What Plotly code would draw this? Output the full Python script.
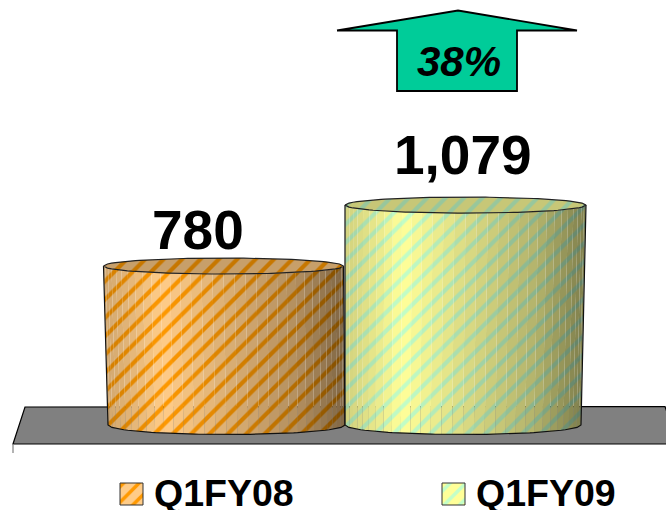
import math
import plotly.graph_objects as go

W, H = 666, 510
quarters = ["Q1FY08", "Q1FY09"]
revenue = [780, 1079]
growth_label = "38%"

BG = [(255, 204, 136), (255, 255, 153)]
FG = [(255, 153, 0), (195, 255, 200)]
TOP_EDGES = [(103.5, 343.5), (345.0, 586.0)]
FOOT_EDGES = [(108.0, 345.0), (345.0, 581.0)]
TOP_RY, FOOT_RY = 8.0, 9.5
BASE_PX, PX_PER_UNIT = 425.0, 0.2038
N_STRIPS = 34

# Lighting stops across the face: position, brightness
LIGHT_POS = [0.0, 0.12, 0.24, 0.33, 0.5, 0.8, 1.0]
LIGHT_VAL = [0.82, 0.9, 1.0, 0.95, 0.86, 0.7, 0.5]


def px_to_val(px):
    return (BASE_PX - px) / PX_PER_UNIT


def dy(px):
    return px / PX_PER_UNIT


def shade(u):
    """Cylinder lighting across the face, u in 0..1 from left to right."""
    for a, b, fa, fb in zip(LIGHT_POS, LIGHT_POS[1:], LIGHT_VAL, LIGHT_VAL[1:]):
        if u <= b:
            return fa + (fb - fa) * (u - a) / (b - a)
    return LIGHT_VAL[-1]


def tint(rgb, f):
    return "rgb(%d,%d,%d)" % tuple(round(c * f) for c in rgb)


def pattern(i, f, size=13):
    return dict(shape="/", bgcolor=tint(BG[i], f), fgcolor=tint(FG[i], f),
                fgopacity=1, size=size, solidity=0.32)


def front_curve(edges, u, ry):
    """Point on the front half of an ellipse; u runs 0..1 across the width."""
    left, right = edges
    cx, rx = (left + right) / 2, (right - left) / 2
    t = 2 * u - 1
    return cx + rx * t, ry * math.sqrt(max(0, 1 - t * t))


fig = go.Figure()

for i, value in enumerate(revenue):
    # Side of the cylinder: narrow vertical facets whose ends follow the ellipses
    for k in range(N_STRIPS):
        u0 = 0.5 - 0.5 * math.cos(math.pi * k / N_STRIPS)
        u1 = 0.5 - 0.5 * math.cos(math.pi * (k + 1) / N_STRIPS)
        xt0, dt0 = front_curve(TOP_EDGES[i], u0, TOP_RY)
        xt1, dt1 = front_curve(TOP_EDGES[i], u1, TOP_RY)
        xb0, db0 = front_curve(FOOT_EDGES[i], u0, FOOT_RY)
        xb1, db1 = front_curve(FOOT_EDGES[i], u1, FOOT_RY)
        fig.add_trace(go.Scatter(
            x=[xt0, xt1, xb1, xb0, xt0],
            y=[value - dy(dt0), value - dy(dt1), -dy(db1), -dy(db0), value - dy(dt0)],
            mode="lines", fill="toself", line=dict(width=0), showlegend=False,
            hoverinfo="skip", fillcolor=tint(BG[i], shade((u0 + u1) / 2)),
            fillpattern=pattern(i, shade((u0 + u1) / 2))))

    # Outline of the body
    us = [j / 60 for j in range(61)]
    bottom = [front_curve(FOOT_EDGES[i], u, FOOT_RY) for u in us]
    fig.add_trace(go.Scatter(
        x=[TOP_EDGES[i][0]] + [p[0] for p in bottom] + [TOP_EDGES[i][1]],
        y=[value] + [-dy(p[1]) for p in bottom] + [value],
        mode="lines", line=dict(color="#111111", width=1.2),
        showlegend=False, hoverinfo="skip"))

    # Top face of the cylinder
    front = [front_curve(TOP_EDGES[i], u, TOP_RY) for u in us]
    ex = [p[0] for p in front] + [p[0] for p in reversed(front)]
    ey = [value - dy(p[1]) for p in front] + [value + dy(p[1]) for p in reversed(front)]
    fig.add_trace(go.Scatter(
        x=ex, y=ey, mode="lines", fill="toself",
        line=dict(color="#222222", width=1.2), showlegend=False, hoverinfo="skip",
        fillcolor=tint(BG[i], 0.78), fillpattern=pattern(i, 0.78)))

# Growth arrow and legend swatches live on a pixel-scaled overlay axis
arrow_x = [337, 458, 577, 517, 517, 397, 397, 337]
arrow_y = [30.5, 10.5, 30.5, 30.5, 91, 91, 30.5, 30.5]
fig.add_trace(go.Scatter(x=arrow_x, y=arrow_y, xaxis="x2", yaxis="y2", mode="lines",
                         fill="toself", fillcolor="#00CC99",
                         line=dict(color="#000000", width=1.8),
                         showlegend=False, hoverinfo="skip"))

swatch_left = [120, 442]
for i, left in enumerate(swatch_left):
    fig.add_trace(go.Scatter(
        x=[left, left + 23, left + 23, left, left],
        y=[483, 483, 505, 505, 483], xaxis="x2", yaxis="y2", mode="lines",
        fill="toself", fillcolor=tint(BG[i], 1), fillpattern=pattern(i, 1, size=11),
        line=dict(color="#333333", width=1), showlegend=False, hoverinfo="skip"))


def paper(px, py):
    return px / W, 1 - py / H


FLOOR = [(25, 407), (665, 406.5), (678, 444), (13, 444)]
floor_path = "M " + " L ".join("%.5f,%.5f" % paper(*p) for p in FLOOR) + " Z"
tx0, ty0 = paper(13, 444)
tx1, ty1 = paper(13, 453)
shapes = [
    dict(type="path", xref="paper", yref="paper", path=floor_path, layer="below",
         fillcolor="#808080", line=dict(color="#000000", width=1.2)),
    dict(type="line", xref="paper", yref="paper", x0=tx0, y0=ty0, x1=tx1, y1=ty1,
         layer="below", line=dict(color="#808080", width=1.2)),
]

FONT = "Liberation Sans, Arial, sans-serif"
value_x = [198, 463]
value_lift = [3, 17]
annotations = []
for v, vx, lift in zip(revenue, value_x, value_lift):
    annotations.append(dict(
        x=vx, y=v, xref="x", yref="y", text="<b>%s</b>" % format(v, ","),
        showarrow=False, xanchor="center", yanchor="bottom", yshift=lift,
        font=dict(family=FONT, size=55, color="#000000")))
annotations.append(dict(
    x=459, y=61, xref="x2", yref="y2", text="<b><i>%s</i></b>" % growth_label,
    showarrow=False, xanchor="center", yanchor="middle",
    font=dict(family=FONT, size=42, color="#000000")))
for q, tx in zip(quarters, [152, 474]):
    annotations.append(dict(
        x=tx, y=493, xref="x2", yref="y2", text="<b>%s</b>" % q,
        showarrow=False, xanchor="left", yanchor="middle", height=34, valign="middle",
        font=dict(family=FONT, size=37.5, color="#000000")))

hidden = dict(visible=False, fixedrange=True)
fig.update_layout(
    width=W, height=H, margin=dict(l=0, r=0, t=0, b=0), autosize=False,
    paper_bgcolor="#FFFFFF", plot_bgcolor="rgba(0,0,0,0)", showlegend=False,
    xaxis=dict(range=[0, W], **hidden),
    yaxis=dict(range=[px_to_val(H), px_to_val(0)], **hidden),
    xaxis2=dict(range=[0, W], overlaying="x", anchor="y2", **hidden),
    yaxis2=dict(range=[H, 0], overlaying="y", anchor="x2", **hidden),
    shapes=shapes, annotations=annotations)

fig.write_html("out.html", config=dict(displayModeBar=False))
